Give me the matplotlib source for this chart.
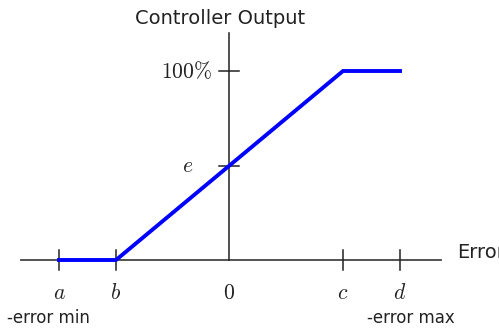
import matplotlib.pyplot as plt

# piecewise controller output (error on x, output on y)
err_pts = [-170, -113, 114, 171]
out_pts = [0, 0, 189, 189]

x_ticks = [-170, -113, 0, 114, 171]
x_labels = ['$a$', '$b$', '$0$', '$c$', '$d$']
y_ticks = [94.5, 189]
y_labels = ['$e$', '$100\\%$']

plt.rcParams['mathtext.fontset'] = 'cm'

fig = plt.figure(figsize=(4.99, 3.29), dpi=100)
ax = fig.add_axes([0, 0, 1, 1])
ax.set_xlim(-229, 270)
ax.set_ylim(-69, 260)
ax.axis('off')

# axes lines
ax.plot([-208, 212], [0, 0], color='#444444', lw=1.3)
ax.plot([0, 0], [0, 227], color='#222222', lw=1.1)

# ticks
for x in x_ticks:
    if x != 0:
        ax.plot([x, x], [-10, 10], color='#222222', lw=1.1)
for y in y_ticks:
    ax.plot([-10, 10], [y, y], color='#222222', lw=1.1)

ax.plot(err_pts, out_pts, color='#0000ff', lw=2.8, solid_joinstyle='miter')

for x, lab in zip(x_ticks, x_labels):
    ax.text(x, -33, lab, ha='center', va='center', fontsize=15.5, color='#222222')
ax.text(-17, y_ticks[1], y_labels[1], ha='right', va='center', fontsize=15.5, color='#222222')
ax.text(-41, y_ticks[0], y_labels[0], ha='center', va='center', fontsize=15.5, color='#222222')

ax.text(-9, 242, 'Controller Output', ha='center', va='center', fontsize=14, color='#222222')
ax.text(228, 7, 'Error', ha='left', va='center', fontsize=14, color='#222222')
ax.text(-181, -58, '-error min', ha='center', va='center', fontsize=12, color='#222222')
ax.text(182, -58, '-error max', ha='center', va='center', fontsize=12, color='#222222')

fig.savefig('out.png', dpi=100)
